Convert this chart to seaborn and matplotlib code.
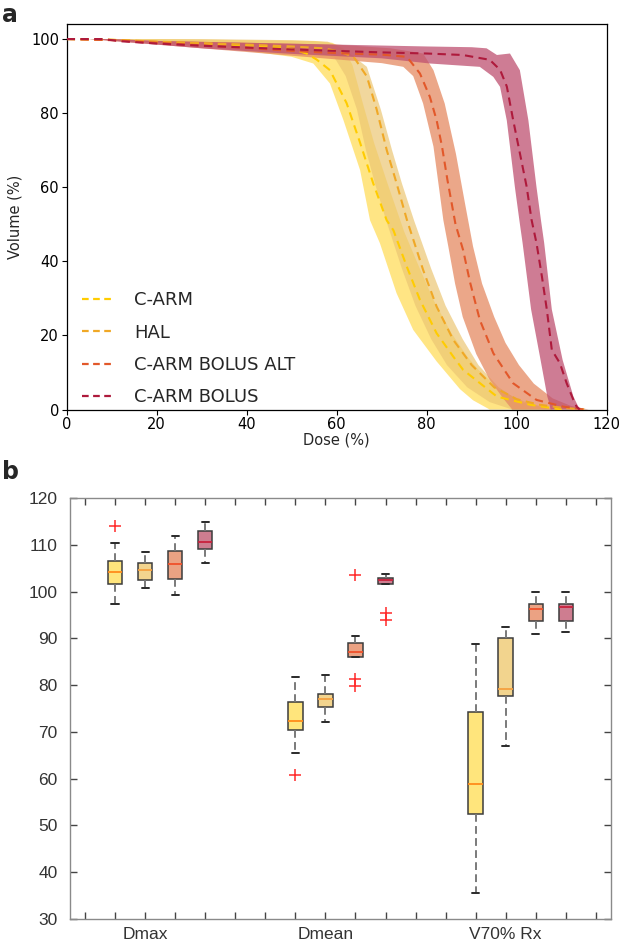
import numpy as np
import pandas as pd
import matplotlib
matplotlib.use("Agg")
import matplotlib.pyplot as plt
from matplotlib.lines import Line2D
import seaborn as sns

plans = ["C-ARM", "HAL", "C-ARM BOLUS ALT", "C-ARM BOLUS"]

# ---------------- Panel a: mean DVH curves (dose %, volume %) ----------------
carm_dose = [0, 10, 20, 30, 40, 45, 50, 53.3, 55.5, 58.5, 62.2, 65.2, 68.1, 71.1, 72.6, 75.6, 78.5, 82.2, 85.9, 88.1, 95.6, 103, 110]
carm_vol = [100, 99.8, 99.2, 98.8, 98.3, 98.0, 97.3, 96.1, 94.5, 91.6, 82.7, 72.0, 61.1, 51.1, 48.4, 38.5, 29.6, 20.6, 14.3, 10.7, 3.5, 1.3, 0]

hal_dose = [0, 10, 20, 30, 40, 50, 57, 60, 63.7, 66.7, 68.9, 71.1, 73.3, 75.6, 79.2, 82.2, 85.9, 90, 95, 100, 105, 110, 115]
hal_vol = [100, 99.8, 99.3, 98.9, 98.5, 98.0, 97.5, 96.8, 95.3, 89.9, 80.9, 70.1, 61.1, 51.2, 37.7, 27.8, 18.8, 12, 6, 2.8, 1.3, 0.5, 0]

alt_dose = [0, 10, 20, 30, 40, 50, 60, 70, 75.6, 78.5, 80.7, 82.2, 83.4, 84.6, 86.4, 88.1, 89.6, 91.8, 94.8, 99.2, 104.4, 110.3, 115]
alt_vol = [100, 99.7, 99.0, 98.3, 97.6, 96.8, 96.2, 95.8, 95.2, 90.7, 84.4, 78.1, 71, 62, 50, 43, 34.5, 24.2, 15.2, 7.1, 2.6, 0.8, 0]

bol_dose = [0, 8, 12, 20, 30, 40, 50, 60, 70, 80, 88, 94, 96.3, 97.8, 99.2, 100.7, 102.2, 103.3, 104.4, 105.6, 106.7, 107.8, 109.6, 111.1, 112.6, 113.3, 114]
bol_vol = [100, 100, 99.4, 98.8, 98.2, 97.7, 97.2, 96.8, 96.4, 96.1, 95.7, 94.4, 91.7, 87.2, 78.2, 69.2, 60.2, 51.2, 44.9, 35.9, 26.9, 16.1, 12.5, 7.1, 2.6, 0.8, 0]

# band edges (lower/left edge and upper/right edge)
carm_lo_dose = [0, 5, 20, 35, 45, 50, 54.8, 58.5, 61.5, 65.2, 67.4, 69.6, 73.3, 77, 82.2, 87.4, 90.3, 94]
carm_lo_vol = [100, 100, 99, 97.5, 96, 95.2, 93.4, 88, 78.1, 64.6, 51.1, 44.9, 31.4, 21.5, 13, 5.5, 2.5, 0]
carm_hi_dose = [0, 20, 40, 55, 59, 61.5, 63.5, 65.8, 68.3, 71.3, 75, 78.3, 81.5, 85.5, 89, 91.5, 96.5, 102, 108]
carm_hi_vol = [100, 100, 99.7, 99.5, 99, 97.5, 93, 82.7, 72, 61, 48, 38.5, 29.6, 20.6, 14.3, 10.7, 5, 2, 0]

hal_lo_dose = [0, 5, 20, 40, 55, 59.5, 62, 64.5, 66.5, 68.5, 71, 74.5, 77.5, 81, 84.5, 89, 94, 99]
hal_lo_vol = [100, 100, 99, 97.5, 96.5, 95, 90, 81, 70, 61, 51, 38, 28, 19, 12, 6, 2, 0]
hal_hi_dose = [0, 30, 50, 58, 62, 66.7, 69.8, 72.3, 74.5, 77.2, 81, 84.2, 88, 91.5, 96, 101, 108]
hal_hi_vol = [100, 100, 99.7, 99.3, 97, 92.5, 81, 70, 61, 51, 38, 28, 19, 12, 6, 2, 0]

alt_lo_dose = [0, 5, 15, 30, 45, 60, 70, 74.8, 77, 79.2, 81.5, 83.7, 84.8, 86.3, 88, 91, 94, 97, 99]
alt_lo_vol = [100, 100, 99, 97.5, 96, 94.5, 93.5, 92.5, 90, 82.6, 71, 51.1, 44, 34, 25, 15, 8, 3, 0]
alt_hi_dose = [0, 10, 20, 40, 60, 72, 79.2, 81.5, 84, 86.5, 88.5, 90.3, 92.3, 95, 97.5, 100.5, 103.8, 108, 112, 116]
alt_hi_vol = [100, 100, 99.5, 99, 98.5, 97.5, 96.1, 91.6, 82.6, 69, 55.7, 44, 34, 25, 18, 12, 7, 3, 1, 0]

bol_lo_dose = [0, 5, 15, 30, 50, 70, 80.7, 91.8, 94.8, 96.3, 97.8, 99.6, 100.6, 101.3, 103.2, 105.3, 106.8, 107.3, 107.5]
bol_lo_vol = [100, 100, 99, 97.5, 96, 94.8, 93.4, 92.5, 89.8, 87.1, 78, 60, 51, 45, 27, 13.4, 3.5, 1.5, 0]
bol_hi_dose = [0, 10, 20, 40, 60, 80, 90, 93.3, 95.6, 98.5, 100.7, 102.6, 104.4, 105.4, 106.1, 107.8, 110.2, 112.6, 114]
bol_hi_vol = [100, 100, 99.5, 99, 98.5, 98, 97.8, 97.5, 95.7, 96.1, 91.6, 78, 60, 51, 45, 27, 13.4, 3.5, 0]

# ---------------- Panel b: box statistics [low whisker, Q1, median, Q3, high whisker] ----------------
metrics = ["Dmax", "Dmean", "V70% Rx"]
dmax_stats = [[97.4, 101.6, 104.1, 106.5, 110.4],
              [100.7, 102.5, 104.6, 106.0, 108.5],
              [99.2, 102.7, 105.9, 108.6, 111.9],
              [106.0, 109.2, 110.5, 112.9, 114.8]]
dmean_stats = [[65.5, 70.3, 72.4, 76.4, 81.7],
               [72.2, 75.4, 77.0, 78.0, 82.1],
               [86.0, 86.0, 87.1, 88.9, 90.5],
               [101.6, 101.6, 102.4, 103.0, 103.7]]
v70_stats = [[35.5, 52.4, 58.9, 74.2, 88.8],
             [67.0, 77.6, 79.1, 90.1, 92.5],
             [90.9, 93.8, 96.3, 97.3, 100.0],
             [91.3, 93.6, 96.7, 97.4, 100.0]]
# outliers: (metric, plan, value)
outlier_metric = ["Dmax", "Dmean", "Dmean", "Dmean", "Dmean", "Dmean", "Dmean"]
outlier_plan = ["C-ARM", "C-ARM", "C-ARM BOLUS ALT", "C-ARM BOLUS ALT", "C-ARM BOLUS ALT", "C-ARM BOLUS", "C-ARM BOLUS"]
outlier_value = [114.0, 60.8, 103.6, 81.2, 79.9, 95.4, 94.0]

# ---------------- styles ----------------
line_colors = {"C-ARM": "#FFCC00", "HAL": "#F0A826", "C-ARM BOLUS ALT": "#E2582A", "C-ARM BOLUS": "#AE1A3C"}
band_colors = {"C-ARM": "#FFDC55", "HAL": "#ECC674", "C-ARM BOLUS ALT": "#E58A62", "C-ARM BOLUS": "#BE5070"}
band_alpha = {"C-ARM": 0.72, "HAL": 0.7, "C-ARM BOLUS ALT": 0.75, "C-ARM BOLUS": 0.75}
box_colors = {"C-ARM": "#FFE57C", "HAL": "#F2D48E", "C-ARM BOLUS ALT": "#EBA283", "C-ARM BOLUS": "#CE7D90"}
median_colors = ["#FF8C1A", "#F5A040", "#F0502A", "#C8203C"]

sns.set_theme(style="white")
plt.rcParams["font.family"] = ["DejaVu Sans"]

fig = plt.figure(figsize=(6.21, 9.43), dpi=100)

# ======================= panel a =======================
ax1 = fig.add_axes([0.1074, 0.5657, 0.8696, 0.4086])

curves = {
    "C-ARM": (carm_dose, carm_vol, carm_lo_dose, carm_lo_vol, carm_hi_dose, carm_hi_vol),
    "HAL": (hal_dose, hal_vol, hal_lo_dose, hal_lo_vol, hal_hi_dose, hal_hi_vol),
    "C-ARM BOLUS ALT": (alt_dose, alt_vol, alt_lo_dose, alt_lo_vol, alt_hi_dose, alt_hi_vol),
    "C-ARM BOLUS": (bol_dose, bol_vol, bol_lo_dose, bol_lo_vol, bol_hi_dose, bol_hi_vol),
}
for p in plans:
    d, v, ld, lv, hd, hv = curves[p]
    xs = list(hd) + list(ld)[::-1]
    ys = list(hv) + list(lv)[::-1]
    ax1.fill(xs, ys, color=band_colors[p], alpha=band_alpha[p], lw=0, zorder=1)

rows = []
for p in plans:
    d, v = curves[p][0], curves[p][1]
    rows += [{"plan": p, "dose": a, "vol": b} for a, b in zip(d, v)]
df_lines = pd.DataFrame(rows)
sns.lineplot(data=df_lines, x="dose", y="vol", hue="plan", hue_order=plans,
             palette=line_colors, estimator=None, sort=False, linewidth=1.5,
             linestyle="--", legend=False, ax=ax1, zorder=3)
for ln in ax1.get_lines():
    ln.set_linestyle((0, (4, 2.6)))

ax1.set_xlim(0, 120)
ax1.set_ylim(0, 104)
ax1.set_xticks(range(0, 121, 20))
ax1.set_yticks(range(0, 101, 20))
ax1.set_xlabel("Dose (%)", fontsize=10.5, labelpad=0)
ax1.set_ylabel("Volume (%)", fontsize=10.5, labelpad=6)
ax1.tick_params(axis="both", which="both", direction="out", length=3.5, width=0.8,
                labelsize=10.5, colors="black", bottom=True, left=True, pad=2)
for s in ax1.spines.values():
    s.set_color("black")
    s.set_linewidth(0.9)

handles = [Line2D([0], [0], color=line_colors[p], ls=(0, (3, 2)), lw=1.6) for p in plans]
ax1.legend(handles, plans, loc="lower left", bbox_to_anchor=(0.008, -0.02),
           frameon=False, fontsize=13, handlelength=1.8, handletextpad=1.1,
           labelspacing=0.8, borderaxespad=0.2)

# ======================= panel b =======================
ax2 = fig.add_axes([0.1127, 0.0255, 0.871, 0.4464])

stats_by_metric = {"Dmax": dmax_stats, "Dmean": dmean_stats, "V70% Rx": v70_stats}
brows = []
for mi, m in enumerate(metrics):
    for pi, p in enumerate(plans):
        pos = mi * 6 + pi + 2
        for val in stats_by_metric[m][pi]:
            brows.append({"metric": m, "plan": p, "pos": pos, "value": val})
df_box = pd.DataFrame(brows)

orows = []
for m, p, val in zip(outlier_metric, outlier_plan, outlier_value):
    pos = metrics.index(m) * 6 + plans.index(p) + 2
    orows.append({"metric": m, "plan": p, "pos": pos, "value": val})
df_out = pd.DataFrame(orows)

sns.boxplot(data=df_box, x="pos", y="value", hue="plan", hue_order=plans,
            palette=box_colors, saturation=1, native_scale=True, dodge=False,
            width=0.48, whis=(0, 100), showfliers=False, linecolor="#3c3c3c",
            linewidth=1.1, legend=False, ax=ax2,
            whiskerprops=dict(color="#7a7a7a", linestyle=(0, (4, 2.2)), linewidth=1.4),
            capprops=dict(color="#2a2a2a", linewidth=1.4),
            medianprops=dict(linewidth=1.3))

for c in ax2.containers:
    meds = getattr(c, "medians", None)
    if meds is None:
        continue
    for mline in meds:
        xpos = int(round(float(np.mean(mline.get_xdata()))))
        mline.set_color(median_colors[(xpos - 2) % 6])

sns.scatterplot(data=df_out, x="pos", y="value", marker="+", color="#FF2A2A",
                s=65, linewidth=1.1, legend=False, ax=ax2, zorder=5)

ax2.set_xlim(0.5, 18.5)
ax2.set_ylim(30, 120)
xt = list(range(1, 19))
xl = ["" for _ in xt]
xl[2], xl[8], xl[14] = "Dmax", "Dmean", "V70% Rx"
ax2.set_xticks(xt)
ax2.set_xticklabels(xl, fontfamily=["Liberation Sans"], fontsize=12.5, color="#333333")
ax2.set_yticks(range(30, 121, 10))
ax2.set_yticklabels([str(t) for t in range(30, 121, 10)], fontfamily=["Liberation Sans"],
                    fontsize=12.5, color="#333333")
ax2.set_xlabel("")
ax2.set_ylabel("")
ax2.tick_params(axis="x", pad=6)
ax2.tick_params(axis="y", pad=9)
ax2.tick_params(axis="both", direction="in", length=5, width=1, color="#444444",
                top=True, right=True, bottom=True, left=True)
for s in ax2.spines.values():
    s.set_color("#8a8a8a")
    s.set_linewidth(1.0)

fig.text(0.004, 0.997, "a", fontsize=17, fontweight="bold", va="top", ha="left")
fig.text(0.004, 0.512, "b", fontsize=17, fontweight="bold", va="top", ha="left")

fig.savefig("out.png", dpi=100)
